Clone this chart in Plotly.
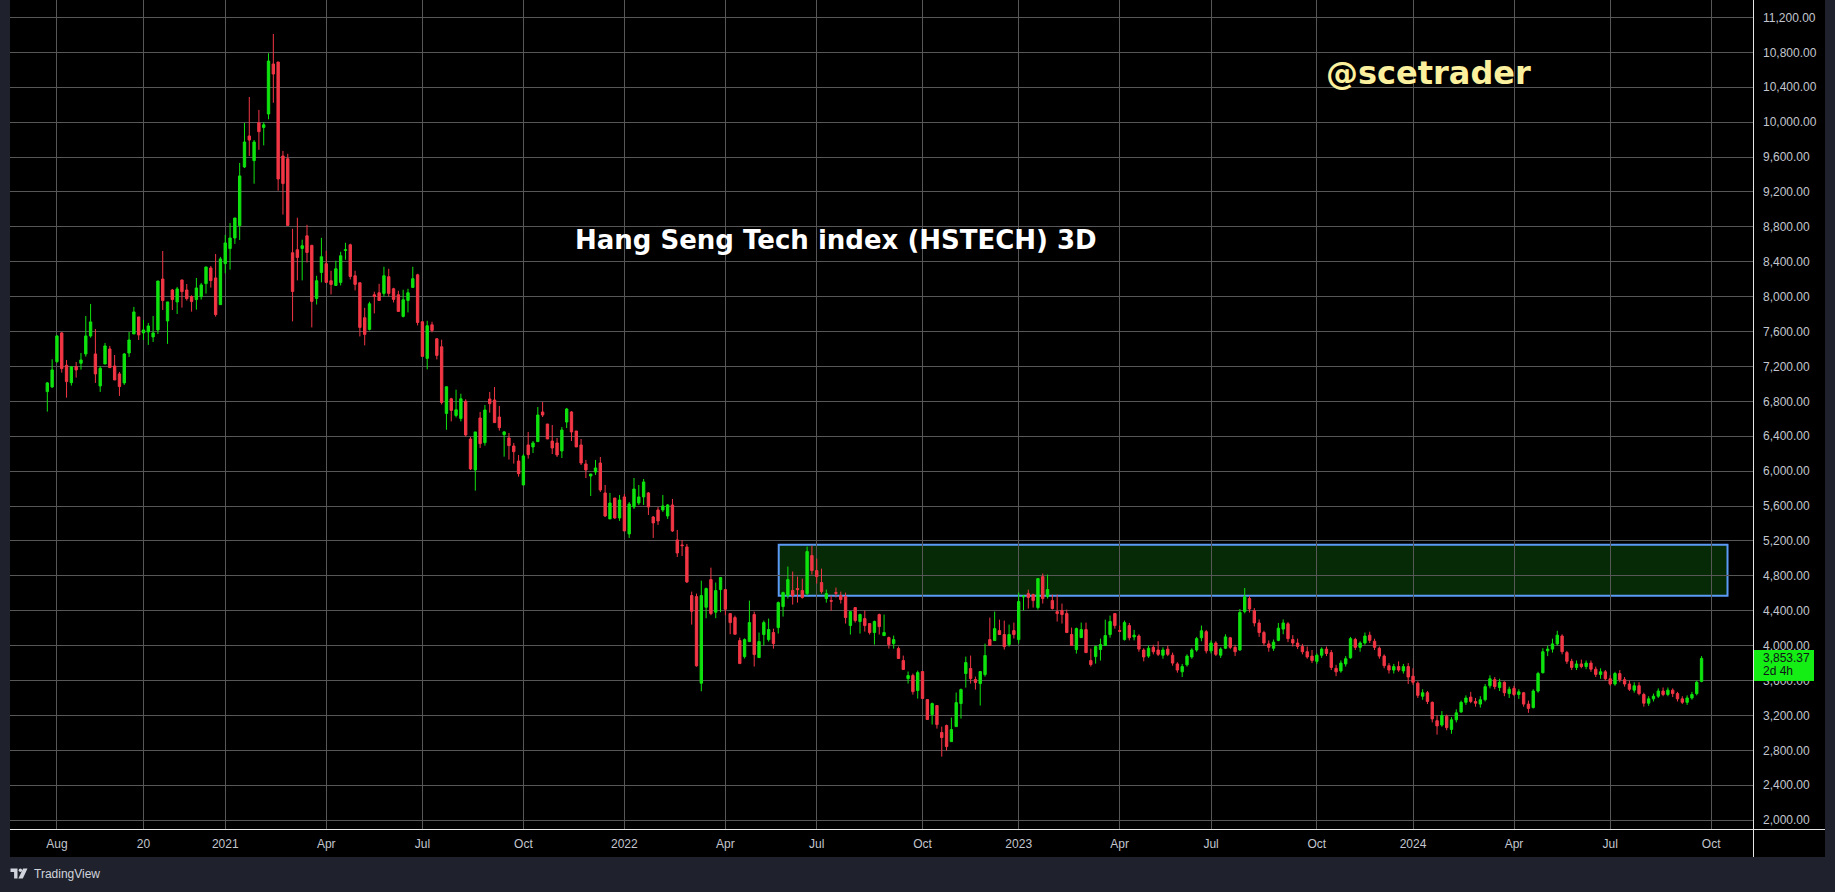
import plotly.graph_objects as go

# ---- OHLC data (3-day bars) ----
opens = [
    6911, 6965, 7255, 7584, 7213, 7014, 7198, 7236, 7343, 7549,
    7343, 6976, 7228, 7400, 7205, 7114, 7011, 7354, 7572, 7767,
    7584, 7595, 7538, 7618, 8202, 7721, 8076, 7939, 8191, 8076,
    8000, 7966, 8000, 8149, 8328, 8214, 7908, 8378, 8550, 8672,
    8814, 9486, 9841, 9558, 9993, 9939, 10093, 10666, 10689, 9612,
    9580, 8503, 8537, 8552, 8697, 8587, 7979, 8277, 8377, 8182,
    8128, 8163, 8529, 8594, 8239, 8159, 7758, 7624, 8021, 8044,
    8037, 8228, 8090, 8021, 7773, 7956, 8105, 8250, 7712, 7292,
    7677, 7517, 7425, 6661, 6829, 6638, 6604, 6800, 6368, 6013,
    6609, 6326, 6827, 6815, 6620, 6418, 6380, 6288, 6116, 5841,
    6300, 6277, 6338, 6678, 6540, 6345, 6323, 6231, 6563, 6678,
    6460, 6300, 6082, 5944, 5990, 6093, 5750, 5452, 5692, 5463,
    5704, 5280, 5589, 5635, 5704, 5750, 5474, 5555, 5555, 5486,
    5612, 5211, 5154, 5131, 4574, 4562, 3569, 4440, 4757, 4383,
    4642, 4642, 4367, 4321, 4058, 3874, 4046, 4356, 3863, 4127,
    4069, 4150, 4207, 4447, 4574, 4631, 4654, 4631, 4596, 5032,
    4860, 4723, 4539, 4516, 4608, 4574, 4562, 4230, 4436, 4276,
    4310, 4253, 4150, 4356, 4115, 4092, 4023, 3966, 3829, 3622,
    3657, 3485, 3703, 3382, 3210, 3313, 3004, 3084, 2900, 3072,
    3336, 3680, 3737, 3611, 3565, 3668, 4069, 4058, 4172, 4127,
    4012, 4172, 4069, 4558, 4596, 4585, 4436, 4791, 4562, 4516,
    4390, 4402, 4367, 4127, 3955, 4092, 4184, 3829, 3874, 3955,
    4001, 4127, 4367, 4172, 4069, 4230, 4100, 4110, 3950, 3880,
    3980, 3950, 3890, 3960, 3890, 3790, 3700, 3780, 3870, 3950,
    4090, 4160, 3940, 4030, 3890, 3970, 4090, 3980, 3950, 4390,
    4540, 4400, 4260, 4150, 4020, 3970, 4060, 4190, 4250, 4070,
    4030, 3990, 3930, 3880, 3820, 3890, 3960, 3920, 3740, 3710,
    3790, 3860, 4070, 3980, 4030, 4120, 4050, 3970, 3880, 3770,
    3720, 3760, 3710, 3760, 3650, 3570, 3420, 3460, 3350, 3140,
    3090, 3190, 3040, 3150, 3240, 3350, 3410, 3360, 3330, 3380,
    3540, 3610, 3520, 3580, 3450, 3510, 3440, 3460, 3330, 3290,
    3480, 3690, 3940, 3960, 4020, 4110, 3920, 3820, 3750, 3790,
    3760, 3800, 3730, 3670, 3700, 3620, 3560, 3680, 3610, 3560,
    3490, 3540, 3440, 3340, 3390, 3420, 3480, 3440, 3490, 3450,
    3390, 3350, 3400, 3450, 3590,
]
highs = [
    7022, 7282, 7560, 7595, 7274, 7205, 7251, 7354, 7778, 7916,
    7629, 7205, 7469, 7435, 7331, 7137, 7354, 7595, 7882, 7767,
    7733, 7698, 7778, 8179, 8523, 7939, 8088, 8111, 8191, 8145,
    8015, 8214, 8157, 8340, 8351, 8489, 8455, 8707, 8844, 8901,
    9532, 9990, 10288, 9795, 10140, 10000, 10789, 11010, 10689, 9670,
    9637, 8778, 8904, 8652, 8823, 8594, 8239, 8674, 8526, 8296,
    8411, 8514, 8617, 8606, 8296, 8159, 7872, 7941, 8056, 8147,
    8342, 8319, 8101, 8067, 8079, 8090, 8342, 8262, 7712, 7723,
    7712, 7517, 7506, 6967, 6841, 6933, 6887, 6823, 6391, 6449,
    6678, 6758, 6907, 6964, 6747, 6460, 6437, 6323, 6185, 6196,
    6449, 6345, 6735, 6792, 6540, 6529, 6380, 6506, 6724, 6689,
    6460, 6368, 6128, 5967, 6128, 6162, 5841, 5750, 5692, 5727,
    5738, 5646, 5921, 5841, 5910, 5761, 5486, 5589, 5727, 5623,
    5681, 5326, 5211, 5165, 4619, 4596, 4745, 4665, 4894, 4723,
    4780, 4642, 4367, 4344, 4092, 4084, 4516, 4390, 4150, 4287,
    4310, 4195, 4505, 4619, 4906, 4849, 4791, 4768, 5135, 5147,
    4998, 4883, 4642, 4574, 4665, 4619, 4608, 4390, 4436, 4367,
    4402, 4253, 4287, 4367, 4356, 4104, 4115, 3989, 3886, 3703,
    3680, 3714, 3703, 3382, 3347, 3313, 3072, 3095, 3175, 3462,
    3508, 3874, 3886, 3645, 3703, 4023, 4321, 4390, 4298, 4287,
    4241, 4264, 4608, 4577, 4642, 4596, 4768, 4826, 4814, 4585,
    4585, 4482, 4413, 4207, 4207, 4264, 4264, 3966, 4001, 4081,
    4298, 4344, 4367, 4230, 4287, 4260, 4180, 4130, 3970, 4000,
    4010, 4050, 3980, 4000, 3920, 3810, 3790, 3900, 3970, 4100,
    4230, 4180, 4060, 4050, 3980, 4130, 4100, 4010, 4420, 4660,
    4570, 4430, 4300, 4170, 4060, 4070, 4260, 4300, 4270, 4120,
    4080, 4020, 3990, 3950, 3910, 3980, 3990, 3950, 3780, 3830,
    3880, 4100, 4090, 4050, 4150, 4160, 4080, 3990, 3900, 3800,
    3790, 3820, 3790, 3800, 3740, 3590, 3500, 3480, 3360, 3200,
    3250, 3210, 3180, 3270, 3370, 3430, 3470, 3400, 3420, 3560,
    3660, 3640, 3620, 3590, 3530, 3540, 3500, 3470, 3370, 3500,
    3700, 3970, 4000, 4080, 4170, 4130, 3940, 3850, 3830, 3840,
    3830, 3830, 3760, 3740, 3720, 3660, 3700, 3720, 3640, 3600,
    3580, 3580, 3460, 3420, 3450, 3510, 3520, 3520, 3510, 3470,
    3420, 3430, 3470, 3600, 3880,
]
lows = [
    6682, 6953, 7240, 7129, 6842, 6980, 7072, 7163, 7312, 7530,
    7011, 6907, 7228, 7186, 7045, 6862, 6988, 7308, 7572, 7503,
    7503, 7446, 7480, 7572, 7847, 7458, 7847, 7801, 7874, 7954,
    7828, 7851, 7966, 8034, 8103, 7771, 7908, 8267, 8309, 8604,
    8649, 9474, 9612, 9294, 9682, 9733, 10032, 10222, 9214, 8940,
    8816, 7716, 8186, 8186, 8392, 7647, 7910, 8163, 8163, 8025,
    8128, 8128, 8422, 8197, 8071, 7544, 7441, 7612, 7807, 7956,
    8002, 8002, 7933, 7830, 7761, 7819, 8105, 7670, 7315, 7166,
    7590, 7280, 6764, 6474, 6570, 6615, 6570, 6395, 6013, 5776,
    6265, 6292, 6670, 6556, 6464, 6166, 6132, 6086, 5937, 5841,
    6143, 6208, 6338, 6620, 6368, 6196, 6162, 6151, 6494, 6345,
    6277, 6070, 5921, 5715, 5956, 5761, 5474, 5452, 5452, 5429,
    5314, 5234, 5566, 5612, 5612, 5497, 5234, 5383, 5532, 5452,
    5303, 5016, 5028, 4718, 4241, 3760, 3477, 4314, 4348, 4314,
    4383, 4348, 4130, 4130, 3794, 3852, 4046, 3760, 3863, 4001,
    4046, 3966, 4138, 4333, 4539, 4470, 4493, 4539, 4574, 4814,
    4711, 4596, 4493, 4402, 4551, 4482, 4253, 4127, 4264, 4138,
    4161, 4127, 4012, 4127, 4115, 3966, 3966, 3852, 3726, 3565,
    3439, 3393, 3393, 3153, 3095, 3049, 2728, 2797, 2900, 3072,
    3164, 3519, 3565, 3496, 3313, 3645, 4001, 4058, 4127, 3955,
    3989, 4081, 4023, 4402, 4425, 4436, 4413, 4482, 4539, 4413,
    4276, 4253, 4150, 4001, 3909, 4092, 3920, 3760, 3794, 3829,
    4001, 4092, 4195, 4160, 4058, 4060, 4060, 3930, 3820, 3860,
    3900, 3880, 3850, 3880, 3770, 3690, 3640, 3760, 3850, 3930,
    4050, 3910, 3910, 3880, 3860, 3960, 3960, 3880, 3940, 4370,
    4380, 4220, 4100, 4000, 3930, 3940, 4050, 4130, 4040, 3990,
    3960, 3900, 3850, 3800, 3790, 3860, 3880, 3720, 3650, 3690,
    3760, 3850, 3950, 3930, 4010, 4030, 3950, 3850, 3740, 3680,
    3680, 3700, 3680, 3560, 3550, 3400, 3380, 3330, 3120, 2980,
    3070, 3030, 2990, 3120, 3230, 3320, 3340, 3300, 3290, 3360,
    3510, 3500, 3480, 3420, 3400, 3420, 3390, 3300, 3230, 3280,
    3460, 3680, 3880, 3920, 4000, 3900, 3790, 3720, 3720, 3740,
    3730, 3700, 3640, 3620, 3600, 3540, 3540, 3580, 3530, 3480,
    3460, 3430, 3300, 3310, 3360, 3400, 3420, 3420, 3410, 3360,
    3330, 3320, 3380, 3430, 3580,
]
closes = [
    7011, 7160, 7549, 7175, 7026, 7194, 7160, 7274, 7549, 7710,
    7114, 7179, 7435, 7186, 7045, 6969, 7343, 7503, 7824, 7561,
    7618, 7664, 7584, 8179, 7954, 7939, 7966, 8088, 8057, 7977,
    7943, 8099, 8134, 8340, 8183, 7794, 8432, 8615, 8672, 8901,
    9383, 9772, 9795, 9772, 9890, 9969, 10700, 10551, 9348, 9295,
    8816, 8059, 8449, 8583, 8506, 7945, 8182, 8457, 8163, 8140,
    8319, 8468, 8537, 8231, 8140, 7647, 7567, 7918, 8002, 7956,
    8239, 8037, 7968, 7830, 7964, 8044, 8205, 7704, 7315, 7666,
    7613, 7326, 6787, 6967, 6696, 6703, 6829, 6414, 6025, 6449,
    6315, 6701, 6773, 6556, 6498, 6449, 6292, 6223, 5971, 6174,
    6189, 6323, 6643, 6643, 6368, 6265, 6185, 6471, 6712, 6449,
    6277, 6093, 6013, 5967, 6036, 5784, 5486, 5635, 5463, 5669,
    5314, 5623, 5795, 5704, 5876, 5589, 5406, 5429, 5601, 5612,
    5314, 5062, 5146, 4730, 4394, 3768, 4574, 4654, 4367, 4631,
    4780, 4417, 4264, 4130, 3794, 4069, 4264, 3897, 4046, 4264,
    4184, 4023, 4493, 4608, 4757, 4574, 4642, 4551, 5078, 4860,
    4791, 4619, 4596, 4509, 4600, 4528, 4321, 4390, 4287, 4356,
    4230, 4150, 4276, 4218, 4150, 4012, 4069, 3852, 3726, 3657,
    3473, 3691, 3393, 3153, 3336, 3095, 2946, 2843, 3038, 3347,
    3496, 3806, 3622, 3577, 3703, 3886, 4001, 4195, 4127, 3989,
    4127, 4127, 4505, 4566, 4551, 4516, 4768, 4539, 4642, 4425,
    4367, 4356, 4150, 4001, 4195, 4184, 3920, 3783, 3989, 4012,
    4115, 4276, 4230, 4165, 4264, 4090, 4120, 3960, 3870, 3970,
    3930, 3900, 3950, 3900, 3800, 3720, 3760, 3880, 3950, 4080,
    4170, 3940, 4030, 3900, 3960, 4100, 3980, 3930, 4380, 4560,
    4420, 4260, 4150, 4030, 3980, 4040, 4200, 4260, 4080, 4030,
    3990, 3930, 3870, 3830, 3890, 3960, 3910, 3750, 3700, 3800,
    3850, 4080, 3980, 4030, 4110, 4060, 3980, 3880, 3770, 3720,
    3760, 3720, 3760, 3640, 3580, 3430, 3460, 3360, 3160, 3080,
    3200, 3060, 3150, 3230, 3350, 3400, 3360, 3340, 3380, 3530,
    3620, 3530, 3580, 3460, 3500, 3440, 3470, 3330, 3280, 3480,
    3680, 3930, 3960, 4020, 4120, 3930, 3820, 3750, 3790, 3760,
    3800, 3730, 3670, 3700, 3620, 3560, 3680, 3610, 3560, 3500,
    3540, 3450, 3340, 3390, 3420, 3480, 3440, 3490, 3450, 3390,
    3350, 3400, 3440, 3580, 3853.37,
]

# ---- axis labels ----
tick_bars = [2, 20, 37, 58, 78, 99, 120, 141, 160, 182, 202, 223, 242, 264, 284, 305, 325, 346]
tick_text = ["Aug", "20", "2021", "Apr", "Jul", "Oct", "2022", "Apr", "Jul", "Oct",
             "2023", "Apr", "Jul", "Oct", "2024", "Apr", "Jul", "Oct"]
price_ticks = [2000, 2400, 2800, 3200, 3600, 4000, 4400, 4800, 5200, 5600, 6000, 6400,
               6800, 7200, 7600, 8000, 8400, 8800, 9200, 9600, 10000, 10400, 10800, 11200]
price_labels = [f"{v:,.2f}" for v in price_ticks]

last_price = 3853.37
countdown = "2d 4h"
title_text = "Hang Seng Tech index (HSTECH) 3D"
handle_text = "@scetrader"

# resistance zone (bar index / price)
zone_bar_start, zone_bar_end = 152.1, 349.4
zone_low, zone_high = 4572, 5157

# ---- styling ----
GREEN = "#0fe30f"
RED = "#f23645"
GRID = "#575757"
AXIS_TXT = "#c3c6ce"
FRAME = "#1f222c"

W, H = 1835, 892
PL, PR, PT, PB = 10, 1753, 0, 829


def px(x):
    return (x - PL) / (PR - PL)


def py(y):
    return (PB - y) / (PB - PT)


bars = list(range(len(closes)))

fig = go.Figure(go.Candlestick(
    x=bars, open=opens, high=highs, low=lows, close=closes,
    increasing=dict(line=dict(color=GREEN, width=1), fillcolor=GREEN),
    decreasing=dict(line=dict(color=RED, width=1), fillcolor=RED),
    whiskerwidth=0, showlegend=False, hoverinfo="skip",
))

shapes = [
    # black chart frame behind axes
    dict(type="rect", xref="paper", yref="paper", x0=px(10), x1=px(1825), y0=py(857), y1=py(0),
         fillcolor="#000000", line=dict(width=0), layer="below"),
    # resistance zone
    dict(type="rect", xref="x", yref="y", x0=zone_bar_start, x1=zone_bar_end, y0=zone_low, y1=zone_high,
         fillcolor="#062a06", line=dict(color="#5b9bf5", width=2), layer="below"),
    # axis separator lines
    dict(type="line", xref="paper", yref="paper", x0=px(1753.5), x1=px(1753.5), y0=py(857), y1=py(0),
         line=dict(color="#e6e6e6", width=1), layer="above"),
    dict(type="line", xref="paper", yref="paper", x0=px(10), x1=px(1825), y0=py(829.5), y1=py(829.5),
         line=dict(color="#e6e6e6", width=1), layer="above"),
]

# last price label box
ly = PT + (11399.4 - last_price) / (11399.4 - 1898.4) * (PB - PT)
shapes.append(dict(type="rect", xref="paper", yref="paper", x0=px(1754), x1=px(1814),
                   y0=py(ly - 8.5), y1=py(ly + 22.5), fillcolor="#14ee14",
                   line=dict(width=0), layer="above"))

# TradingView logo glyph
x0, y0 = 10.5, 868.5
def P(x, y):
    return f"{px(x0 + x):.6f},{py(y0 + y):.6f}"
logo_paths = [
    f"M{P(0,0)} L{P(7,0)} L{P(7,10)} L{P(3.6,10)} L{P(3.6,3.4)} L{P(0,3.4)} Z",
    f"M{P(12.6,0)} L{P(17,0)} L{P(12.3,10)} L{P(7.9,10)} Z",
]
for pth in logo_paths:
    shapes.append(dict(type="path", xref="paper", yref="paper", path=pth,
                       fillcolor="#d1d4dc", line=dict(width=0), layer="above"))
shapes.append(dict(type="circle", xref="paper", yref="paper",
                   x0=px(x0 + 8.2), x1=px(x0 + 11.6), y0=py(y0 + 3.4), y1=py(y0),
                   fillcolor="#d1d4dc", line=dict(width=0), layer="above"))

annotations = [
    dict(text=f"<b>{title_text}</b>", xref="paper", yref="paper", x=px(835.5), y=py(240),
         xanchor="center", yanchor="middle", showarrow=False,
         font=dict(family="DejaVu Sans", size=26, color="#ffffff")),
    dict(text=f"<b>{handle_text}</b>", xref="paper", yref="paper", x=px(1428.5), y=py(73),
         xanchor="center", yanchor="middle", showarrow=False,
         font=dict(family="DejaVu Sans", size=32, color="#fbf09d")),
    dict(text=f"{last_price:,.2f}", xref="paper", yref="paper", x=px(1761), y=py(ly),
         xanchor="left", yanchor="middle", showarrow=False,
         font=dict(family="Liberation Sans", size=12, color="#10131a")),
    dict(text=countdown, xref="paper", yref="paper", x=px(1761), y=py(ly + 13),
         xanchor="left", yanchor="middle", showarrow=False,
         font=dict(family="Liberation Sans", size=12, color="#10131a")),
    dict(text="TradingView", xref="paper", yref="paper", x=px(32), y=py(873.5),
         xanchor="left", yanchor="middle", showarrow=False,
         font=dict(family="Liberation Sans", size=12, color="#d1d4dc")),
]

fig.update_layout(
    width=W, height=H,
    margin=dict(l=PL, r=W - PR, t=PT, b=H - PB, pad=0),
    paper_bgcolor=FRAME, plot_bgcolor="#000000",
    boxgap=0.3,
    showlegend=False,
    shapes=shapes, annotations=annotations,
    xaxis=dict(range=[-7.76, 354.7], tickmode="array", tickvals=tick_bars, ticktext=tick_text,
               showgrid=True, gridcolor=GRID, gridwidth=1, zeroline=False, showline=False,
               ticks="", ticklabelstandoff=6, rangeslider=dict(visible=False),
               tickfont=dict(family="Liberation Sans", size=12, color=AXIS_TXT), fixedrange=True),
    yaxis=dict(range=[1898.4, 11399.4], side="right", tickmode="array", tickvals=price_ticks,
               ticktext=price_labels, showgrid=True, gridcolor=GRID, gridwidth=1,
               zeroline=False, showline=False, ticks="", ticklabelstandoff=9,
               tickfont=dict(family="Liberation Sans", size=12, color=AXIS_TXT), fixedrange=True),
)

fig.write_html("out.html", config={"displayModeBar": False},
               post_script="document.body.style.margin='0';document.body.style.overflow='hidden';")
